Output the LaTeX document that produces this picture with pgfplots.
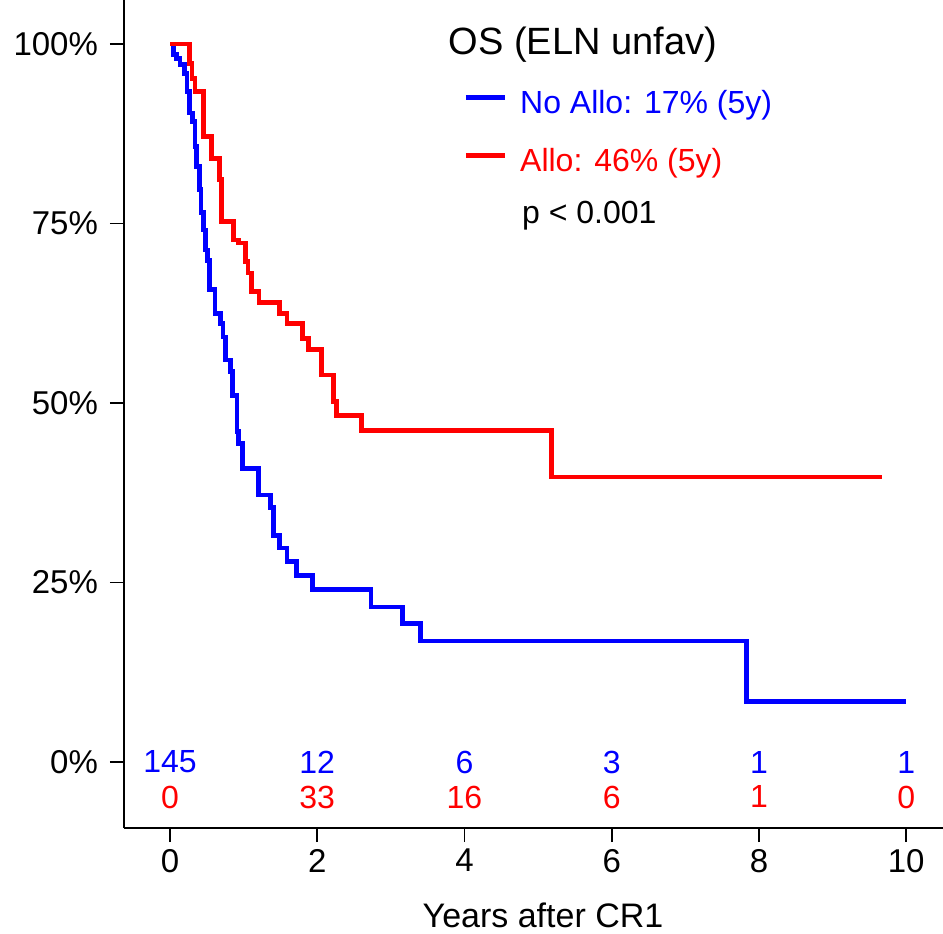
\documentclass[border=0pt]{standalone}
\usepackage{fontspec}
\setmainfont{Liberation Sans}
\usepackage{pgfplots}
\pgfplotsset{compat=1.18}

\begin{document}
\begin{tikzpicture}
\useasboundingbox (-62pt,-52.5pt) rectangle (409.5pt,414pt);
\begin{axis}[
    scale only axis,
    width=409.5pt, height=414pt,
    xmin=-0.625, xmax=10.5,
    ymin=-9.19, ymax=106.13,
    axis x line*=bottom, axis y line*=left,
    axis line style={-, line width=0.8pt},
    xtick={0,2,...,10},
    ytick={0,25,50,75,100},
    yticklabel={\pgfmathprintnumber{\tick}\%},
    tick align=outside,
    major tick length=7pt,
    tick style={black, line width=0.8pt},
    /pgf/number format/assume math mode=true,
    ticklabel style={font=\fontsize{16.5}{19}\selectfont},
    yticklabel style={xshift=-2.5pt},
    xlabel={Years after CR1},
    xlabel style={font=\fontsize{17}{20}\selectfont, at={(axis description cs:0.5116,0)}, anchor=center, yshift=-43.5pt},
    legend style={at={(axis description cs:0.4139,0.891)}, anchor=north west,
        draw=none, fill=none, inner sep=0pt, row sep=14pt,
        font=\fontsize{16}{19}\selectfont,
        nodes={inner sep=0pt, text height=11.5pt, text depth=3.5pt},
        /tikz/every odd column/.append style={column sep=6.5pt}},
    legend image code/.code={\draw[#1] (0pt,4pt) -- (19.5pt,4pt);},
    legend cell align=left,
]
% No Allo
\addplot[blue, line width=2.4pt, const plot mark left] coordinates {
(0,100) (0.045,98.5) (0.09,98.0) (0.136,97.1) (0.2,95.9) (0.23,93.4)
(0.27,90.4) (0.31,89.2) (0.34,85.7) (0.36,82.9) (0.40,79.7) (0.42,76.5)
(0.45,74.1) (0.48,71.3) (0.51,69.9) (0.54,65.8) (0.61,62.5) (0.69,61.1)
(0.72,59.2) (0.75,56.0) (0.82,54.4) (0.85,51.1) (0.91,46.0) (0.93,44.4)
(0.99,40.9) (1.20,37.2) (1.36,35.4) (1.41,31.6) (1.49,29.8) (1.59,27.9)
(1.72,26.0) (1.94,24.0) (2.73,21.6) (3.16,19.3) (3.40,16.85) (7.83,8.4)
(10.0,8.4)
};
\addlegendentry{\textcolor{blue}{No Allo: 17\% (5y)}}
% Allo
\addplot[red, line width=2.4pt, const plot mark left] coordinates {
(0,100) (0.27,97.3) (0.30,95.2) (0.34,93.4) (0.45,87.1) (0.56,84.1)
(0.67,81.1) (0.70,75.3) (0.86,72.7) (0.93,72.3) (1.02,69.7) (1.06,68.1)
(1.11,65.5) (1.21,64.0) (1.49,62.5) (1.59,61.1) (1.80,59.0) (1.88,57.4)
(2.06,53.9) (2.22,50.2) (2.26,48.3) (2.60,46.2) (5.18,39.7) (9.67,39.7)
};
\addlegendentry{\textcolor{red}{Allo: 46\% (5y)}}

\node[anchor=base west, font=\fontsize{19}{22}\selectfont] at (axis cs:3.69,98.47) {OS (ELN unfav)};
\node[anchor=base west, font=\fontsize{16}{19}\selectfont] at (axis cs:4.6875,75.07) {p < 0.001};

% numbers at risk
\begin{scope}[every node/.style={font=\fontsize{16}{19}\selectfont, anchor=center}]
\node[blue] at (axis cs:0,0) {145};
\node[blue] at (axis cs:2,0) {12};
\node[blue] at (axis cs:4,0) {6};
\node[blue] at (axis cs:6,0) {3};
\node[blue] at (axis cs:8,0) {1};
\node[blue] at (axis cs:10,0) {1};
\node[red] at (axis cs:0,-4.87) {0};
\node[red] at (axis cs:2,-4.87) {33};
\node[red] at (axis cs:4,-4.87) {16};
\node[red] at (axis cs:6,-4.87) {6};
\node[red] at (axis cs:8,-4.87) {1};
\node[red] at (axis cs:10,-4.87) {0};
\end{scope}
\end{axis}
\end{tikzpicture}
\end{document}
